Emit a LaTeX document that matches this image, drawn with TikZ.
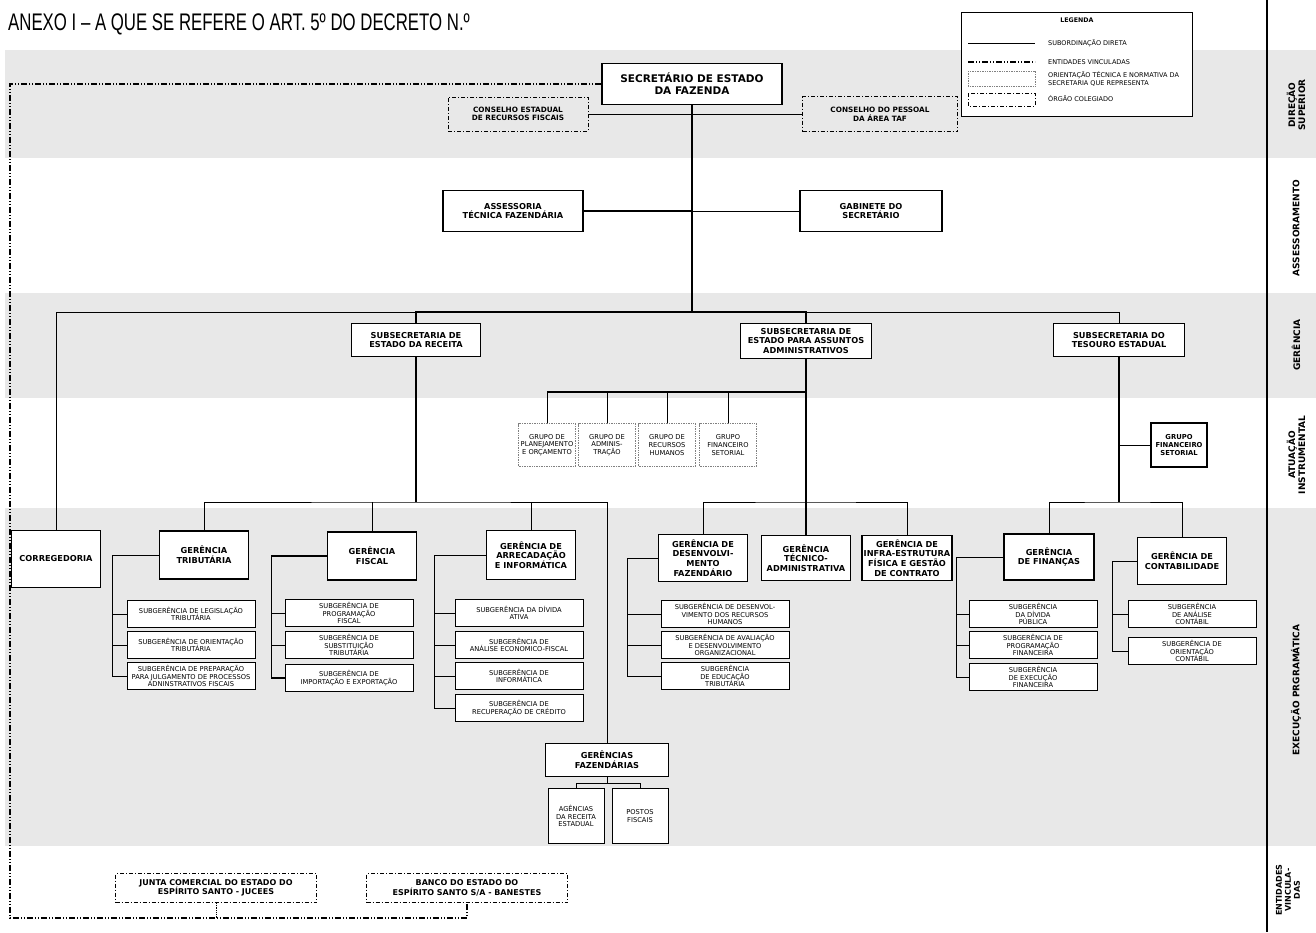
\documentclass[tikz,border=0pt]{standalone}
\usepackage{fontspec}
\setmainfont{DejaVu Sans}
\newfontfamily\titlefont[FakeStretch=0.70]{Liberation Sans}
\usetikzlibrary{positioning,calc}
\definecolor{bandgray}{RGB}{232,232,232}

\begin{document}
\begin{tikzpicture}[
        x=1pt, y=-1pt,
        every node/.style={font=\fontsize{6.7}{7.7}\selectfont, align=center, inner sep=0pt},
        band/.style={fill=bandgray},
        blockchefe/.style={rectangle, draw, line width=1.6pt, fill=white, font=\bfseries\fontsize{10.5}{12}\selectfont, minimum width=180, minimum height=41},
        blockger/.style={rectangle, draw, line width=1.1pt, fill=white, font=\bfseries\fontsize{8.2}{9.6}\selectfont},
        blocksub/.style={rectangle, draw, line width=0.8pt, fill=white, minimum width=128, minimum height=27},
        blockgrupo/.style={rectangle, draw=gray, densely dotted, line width=0.7pt, fill=white, minimum width=57, minimum height=43},
        colegiado/.style={rectangle, draw, line width=0.8pt, dash pattern=on 4pt off 2pt on 1pt off 2pt, font=\bfseries\fontsize{7.3}{8.6}\selectfont},
        legtext/.style={anchor=west, align=left, font=\fontsize{6.5}{7.5}\selectfont},
        sidelabel/.style={rotate=90, font=\bfseries\fontsize{9}{10}\selectfont},
        link/.style={draw=black, line width=0.8pt},
        trunk/.style={draw=black, line width=1.6pt},
        vinc/.style={draw=black, line width=1.1pt, dash pattern=on 6pt off 2pt on 1pt off 2pt on 1pt off 2pt}
        ]
        \useasboundingbox (0,0) rectangle (1316,932);

        % Faixas de fundo
        \fill[band] (5,50) rectangle (1316,158);
        \fill[band] (5,293) rectangle (1316,398);
        \fill[band] (5,508) rectangle (1316,846);
        \draw[line width=1.2pt] (1267,0) -- (1267,932);

        % Titulo
        \node[anchor=base west, font=\titlefont\fontsize{24}{28}\selectfont] (titulo) at (8,30) {ANEXO I – A QUE SE REFERE O ART. 5º DO DECRETO N.º};

        % Legenda
        \node[rectangle, draw, line width=0.8pt, fill=white, minimum width=231, minimum height=104] (legenda) at (1077,64) {};
        \node[font=\bfseries\fontsize{6.3}{7}\selectfont] (legtit) at (1077,20) {LEGENDA};
        \draw[link] (968,43) -- (1035,43);
        \draw[vinc] (968,62) -- (1035,62);
        \draw[draw=gray, densely dotted, line width=0.7pt] (968,71) rectangle (1035,86);
        \draw[link, dash pattern=on 4pt off 2pt on 1pt off 2pt] (968,93) rectangle (1035,106);
        \node[legtext] (leg1) at (1048,43) {SUBORDINAÇÃO DIRETA};
        \node[legtext] (leg2) at (1048,62) {ENTIDADES VINCULADAS};
        \node[legtext] (leg3) at (1048,79) {ORIENTAÇÃO TÉCNICA E NORMATIVA DA\\SECRETARIA QUE REPRESENTA};
        \node[legtext] (leg4) at (1048,99) {ÓRGÃO COLEGIADO};

        % Rotulos das faixas
        \node[sidelabel] (lab1) at (1296,105) {DIREÇÃO\\SUPERIOR};
        \node[sidelabel] (lab2) at (1296,228) {ASSESSORAMENTO};
        \node[sidelabel] (lab3) at (1296,345) {GERÊNCIA};
        \node[sidelabel] (lab4) at (1296,455) {ATUAÇÃO\\INSTRUMENTAL};
        \node[sidelabel] (lab5) at (1296,690) {EXECUÇÃO PRGRAMÁTICA};
        \node[sidelabel, font=\bfseries\fontsize{8}{9}\selectfont] (lab6) at (1288,890) {ENTIDADES\\VINCULA-\\DAS};

        % Direcao superior e assessoramento
        \node[blockchefe] (sec) at (692,84) {SECRETÁRIO DE ESTADO\\DA FAZENDA};
        \node[colegiado, minimum width=140, minimum height=34] (cerf) at (518,114) {CONSELHO ESTADUAL\\DE RECURSOS FISCAIS};
        \node[colegiado, minimum width=155, minimum height=35] (cpt) at (880,114) {CONSELHO DO PESSOAL\\DA ÁREA TAF};
        \node[blockger, minimum width=140, minimum height=41] (ata) at (513,211) {ASSESSORIA\\TÉCNICA FAZENDÁRIA};
        \node[blockger, minimum width=142, minimum height=41] (gab) at (871,211) {GABINETE DO\\SECRETÁRIO};

        % Subsecretarias
        \node[blockger, minimum width=129, minimum height=33] (sre) at (416,340) {SUBSECRETARIA DE\\ESTADO DA RECEITA};
        \node[blockger, minimum width=131, minimum height=35] (ssa) at (806,341) {SUBSECRETARIA DE\\ESTADO PARA ASSUNTOS\\ADMINISTRATIVOS};
        \node[blockger, minimum width=131, minimum height=33] (ste) at (1119,340) {SUBSECRETARIA DO\\TESOURO ESTADUAL};

        % Atuacao instrumental
        \node[blockgrupo] (gpo) at (547,445) {GRUPO DE\\PLANEJAMENTO\\E ORÇAMENTO};
        \node[blockgrupo] (gad) at (607,445) {GRUPO DE\\ADMINIS-\\TRAÇÃO};
        \node[blockgrupo] (grh) at (667,445) {GRUPO DE\\RECURSOS\\HUMANOS};
        \node[blockgrupo] (gfn) at (728,445) {GRUPO\\FINANCEIRO\\SETORIAL};
        \node[blockger, font=\bfseries\fontsize{6.8}{8.2}\selectfont, minimum width=56, minimum height=44] (gfs) at (1179,445) {GRUPO\\FINANCEIRO\\SETORIAL};

        % Gerencias
        \node[blockger, minimum width=89, minimum height=57] (corr) at (56,559) {CORREGEDORIA};
        \node[blockger, minimum width=89, minimum height=48] (gt) at (204,555) {GERÊNCIA\\TRIBUTÁRIA};
        \node[blockger, minimum width=89, minimum height=48] (gf) at (372,556) {GERÊNCIA\\FISCAL};
        \node[blockger, minimum width=89, minimum height=49] (gai) at (531,555) {GERÊNCIA DE\\ARRECADAÇÃO\\E INFORMÁTICA};
        \node[blockger, minimum width=89, minimum height=47] (gdf) at (703,558) {GERÊNCIA DE\\DESENVOLVI-\\MENTO\\FAZENDÁRIO};
        \node[blockger, minimum width=89, minimum height=45] (gta) at (806,558) {GERÊNCIA\\TÉCNICO-\\ADMINISTRATIVA};
        \node[blockger, minimum width=90, minimum height=45] (gie) at (907,558) {GERÊNCIA DE\\INFRA-ESTRUTURA\\FÍSICA E GESTÃO\\DE CONTRATO};
        \node[blockger, minimum width=90, minimum height=46] (gfi) at (1049,557) {GERÊNCIA\\DE FINANÇAS};
        \node[blockger, minimum width=89, minimum height=47] (gco) at (1182,561) {GERÊNCIA DE\\CONTABILIDADE};

        % Subgerencias
        \node[blocksub] (st1) at (191,614) {SUBGERÊNCIA DE LEGISLAÇÃO\\TRIBUTÁRIA};
        \node[blocksub] (st2) at (191,645) {SUBGERÊNCIA DE ORIENTAÇÃO\\TRIBUTÁRIA};
        \node[blocksub] (st3) at (191,676) {SUBGERÊNCIA DE PREPARAÇÃO\\PARA JULGAMENTO DE PROCESSOS\\ADNINSTRATIVOS FISCAIS};
        \node[blocksub] (sf1) at (349,613) {SUBGERÊNCIA DE\\PROGRAMAÇÃO\\FISCAL};
        \node[blocksub] (sf2) at (349,645) {SUBGERÊNCIA DE\\SUBSTITUIÇÃO\\TRIBUTÁRIA};
        \node[blocksub] (sf3) at (349,678) {SUBGERÊNCIA DE\\IMPORTAÇÃO E EXPORTAÇÃO};
        \node[blocksub] (sa1) at (519,613) {SUBGERÊNCIA DA DÍVIDA\\ATIVA};
        \node[blocksub] (sa2) at (519,645) {SUBGERÊNCIA DE\\ANÁLISE ECONOMICO-FISCAL};
        \node[blocksub] (sa3) at (519,676) {SUBGERÊNCIA DE\\INFORMÁTICA};
        \node[blocksub] (sa4) at (519,708) {SUBGERÊNCIA DE\\RECUPERAÇÃO DE CRÉDITO};
        \node[blocksub] (sd1) at (725,614) {SUBGERÊNCIA DE DESENVOL-\\VIMENTO DOS RECURSOS\\HUMANOS};
        \node[blocksub] (sd2) at (725,645) {SUBGERÊNCIA DE AVALIAÇÃO\\E DESENVOLVIMENTO\\ORGANIZACIONAL};
        \node[blocksub] (sd3) at (725,676) {SUBGERÊNCIA\\DE EDUCAÇÃO\\TRIBUTÁRIA};
        \node[blocksub] (sn1) at (1033,614) {SUBGERÊNCIA\\DA DÍVIDA\\PÚBLICA};
        \node[blocksub] (sn2) at (1033,645) {SUBGERÊNCIA DE\\PROGRAMAÇÃO\\FINANCEIRA};
        \node[blocksub] (sn3) at (1033,677) {SUBGERÊNCIA\\DE EXECUÇÃO\\FINANCEIRA};
        \node[blocksub] (sc1) at (1192,614) {SUBGERÊNCIA\\DE ANÁLISE\\CONTÁBIL};
        \node[blocksub] (sc2) at (1192,651) {SUBGERÊNCIA DE\\ORIENTAÇÃO\\CONTÁBIL};

        % Gerencias fazendarias
        \node[blockger, minimum width=123, minimum height=33] (gfz) at (607,760) {GERÊNCIAS\\FAZENDÁRIAS};
        \node[blocksub, minimum width=56, minimum height=55] (ard) at (576,816) {AGÊNCIAS\\DA RECEITA\\ESTADUAL};
        \node[blocksub, minimum width=56, minimum height=55] (pf) at (640,816) {POSTOS\\FISCAIS};

        % Entidades vinculadas
        \node[colegiado, font=\bfseries\fontsize{8}{9.4}\selectfont, minimum width=201, minimum height=29] (jce) at (216,888) {JUNTA COMERCIAL DO ESTADO DO\\ESPÍRITO SANTO - JUCEES};
        \node[colegiado, font=\bfseries\fontsize{8}{9.4}\selectfont, minimum width=201, minimum height=29] (bco) at (467,888) {BANCO DO ESTADO DO\\ESPÍRITO SANTO S/A - BANESTES};
        \coordinate (vc) at (10,918);

        % Ligacoes - direcao e assessoramento
        \draw[trunk] (sec.south) -- (sec.south |- 0,312) coordinate (tk);
        \draw[link] (cerf.east) -- (cerf.east -| sec.south);
        \draw[link] (cpt.west) -- (cpt.west -| sec.south);
        \draw[link, line width=1.3pt] (ata.east) -- (ata.east -| sec.south);
        \draw[link] (gab.west) -- (gab.west -| sec.south);

        % Ligacoes - subsecretarias
        \draw[link] (corr.north) |- (sre.north |- tk);
        \draw[link, line width=1.3pt] (sre.north) |- (tk) -| (ssa.north);
        \draw[link] (ssa.north |- tk) -| (ste.north);

        % Receita
        \draw[trunk] (sre.south) -- (sre.south |- 0,502) coordinate (rb);
        \draw[link] (gt.north) |- (rb) -| (gfz.north);
        \draw[link] (gf.north) -- (gf.north |- rb);
        \draw[link] (gai.north) -- (gai.north |- rb);
        \draw[link] (gt.west) -| ($(st3.west)+(-14,0)$) -- (st3.west);
        \foreach \s in {st1,st2} \draw[link] (\s.west) -- ++(-14,0);
        \draw[link, line width=1.2pt] (gf.west) -| ($(sf3.west)+(-13,0)$) -- (sf3.west);
        \foreach \s in {sf1,sf2} \draw[link] (\s.west) -- ++(-13,0);
        \draw[link] (gai.west) -| ($(sa4.west)+(-20,0)$) -- (sa4.west);
        \foreach \s in {sa1,sa2,sa3} \draw[link] (\s.west) -- ++(-20,0);
        \draw[link] (gfz.south) -- ++(0,6) coordinate (fb);
        \draw[link] (ard.north) |- (fb) -| (pf.north);

        % Assuntos administrativos
        \draw[trunk] (ssa.south) -- (gta.north);
        \draw[link, line width=1.3pt] (gpo.north |- 0,392) -- (ssa.south |- 0,392);
        \foreach \g in {gpo,gad,grh,gfn} \draw[link] (\g.north) -- (\g.north |- 0,392);
        \draw[link] (gdf.north) |- (gta.north |- 0,502) -| (gie.north);
        \draw[link] (gdf.west) -| ($(sd3.west)+(-33,0)$) -- (sd3.west);
        \foreach \s in {sd1,sd2} \draw[link] (\s.west) -- ++(-33,0);

        % Tesouro
        \draw[trunk] (ste.south) -- (ste.south |- 0,502) coordinate (tb);
        \draw[link] (gfs.west) -- (gfs.west -| tb);
        \draw[link] (gfi.north) |- (tb) -| (gco.north);
        \draw[link] (gfi.west) -| ($(sn3.west)+(-12,0)$) -- (sn3.west);
        \foreach \s in {sn1,sn2} \draw[link] (\s.west) -- ++(-12,0);
        \draw[link] (gco.west) -| ($(sc2.west)+(-15,0)$) -- (sc2.west);
        \draw[link] (sc1.west) -- ++(-15,0);

        % Vinculacao
        \draw[vinc] (sec.west) -| (vc) -| (bco.south);
        \draw[link, densely dotted] (jce.south) -- (jce.south |- vc);

    \end{tikzpicture}
\end{document}
